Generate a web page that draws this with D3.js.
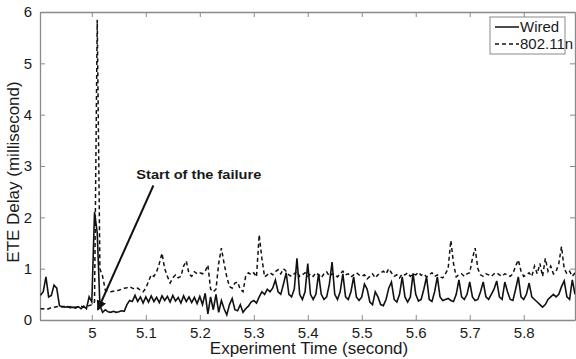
<!DOCTYPE html>
<html>
<head>
<meta charset="utf-8">
<script src="https://cdn.jsdelivr.net/npm/d3@7"></script>
<style>
  body { margin: 0; background: #fff; }
  svg { font-family: "Liberation Sans", Arial, sans-serif; }
</style>
</head>
<body>
<svg id="chart" width="576" height="359"></svg>
<script>
// sampling of the traces (seconds)
const tStart = 4.905;
const tStep = 0.005;

// ETE delay, wired (ms)
const wired = [
  0.48, 0.55, 0.84, 0.45, 0.48, 0.68, 0.62, 0.28, 0.26, 0.25,
  0.26, 0.24, 0.25, 0.23, 0.26, 0.22, 0.27, 0.22, 0.45, 0.35,
  2.1, 1.7, 0.28, 0.15, 0.2, 0.16, 0.15, 0.17, 0.15, 0.16,
  0.18, 0.17, 0.3, 0.38, 0.36, 0.48, 0.36, 0.45, 0.33, 0.45,
  0.35, 0.47, 0.36, 0.44, 0.34, 0.47, 0.38, 0.46, 0.35, 0.48,
  0.37, 0.44, 0.33, 0.47, 0.36, 0.45, 0.34, 0.44, 0.32, 0.46,
  0.3, 0.52, 0.12, 0.45, 0.2, 0.5, 0.15, 0.38, 0.22, 0.1,
  0.3, 0.42, 0.2, 0.18, 0.3, 0.15, 0.22, 0.27, 0.35, 0.38,
  0.33, 0.45, 0.55, 0.5, 0.6, 0.55, 0.62, 0.78, 0.55, 0.5,
  0.7, 0.92, 0.5, 0.45, 0.6, 1.2, 0.5, 0.4, 0.55, 1.1,
  0.5, 0.4, 0.5, 0.9, 0.5, 0.4, 0.45, 0.7, 1.13, 0.5,
  0.4, 0.55, 0.9, 0.45, 0.4, 0.55, 0.84, 0.45, 0.38, 0.45,
  0.7, 0.6, 0.35, 0.3, 0.55, 0.45, 0.3, 0.28, 0.4, 0.62,
  0.74, 0.4, 0.35, 0.5, 0.84, 0.45, 0.35, 0.45, 0.91, 0.5,
  0.37, 0.4, 0.6, 0.84, 0.4, 0.36, 0.55, 0.84, 0.45, 0.38,
  0.4, 0.42, 0.38, 0.36, 0.5, 0.78, 0.45, 0.4, 0.5, 0.74,
  0.45, 0.38, 0.4, 0.55, 0.74, 0.45, 0.4, 0.5, 0.6, 0.76,
  0.45, 0.4, 0.74, 0.55, 0.4, 0.38, 0.6, 0.84, 0.45, 0.4,
  0.5, 0.72, 0.45, 0.4, 0.35, 0.3, 0.25, 0.3, 0.4, 0.45,
  0.5, 0.45, 0.5, 0.65, 0.76, 0.45, 0.4, 0.78, 0.5
];

// ETE delay, 802.11n (ms)
const wifi = [
  0.22, 0.22, 0.2, 0.22, 0.24, 0.25, 0.26, 0.27, 0.26, 0.27,
  0.25, 0.26, 0.27, 0.25, 0.26, 0.27, 0.25, 0.26, 0.28, 0.3,
  0.35, 5.85, 1.0, 0.85, 0.58, 0.55, 0.55, 0.56, 0.57, 0.58,
  0.6, 0.62, 0.63, 0.65, 0.62, 0.6, 0.62, 0.58, 0.55, 0.62,
  0.75, 0.88, 0.85, 0.94, 1.1, 1.3, 1.0, 0.85, 0.72, 0.82,
  0.88, 0.82, 0.85, 1.05, 1.15, 0.9, 0.85, 0.94, 0.9, 0.92,
  0.9, 0.95, 1.07, 0.6, 0.55, 0.6, 1.1, 1.4, 1.1, 0.84,
  0.65, 0.62, 0.72, 0.74, 0.6, 0.55, 0.85, 0.92, 0.88, 0.92,
  0.84, 1.66, 1.2, 0.84, 0.88, 0.92, 0.88, 0.94, 0.98, 0.9,
  1.0, 0.95, 0.88, 0.85, 0.9, 0.95, 0.85, 0.88, 0.92, 0.85,
  0.9, 0.85, 0.92, 0.88, 0.82, 0.9, 0.94, 0.85, 0.9, 0.88,
  0.84, 0.9, 0.95, 0.88, 0.9, 0.84, 0.88, 0.92, 0.88, 0.85,
  0.88, 0.8, 0.85, 0.9, 0.82, 0.88, 0.92, 0.95, 0.9, 1.0,
  0.92, 0.85, 0.88, 0.82, 0.9, 0.88, 0.92, 0.85, 0.9, 0.88,
  0.93, 0.87, 0.9, 0.84, 0.88, 0.92, 0.85, 0.88, 0.84, 0.82,
  0.9, 1.0, 1.55, 1.1, 0.84, 0.88, 0.9, 0.85, 0.9, 0.92,
  1.2, 1.4, 1.0, 0.88, 0.85, 0.9, 0.88, 0.85, 0.9, 0.92,
  0.88, 0.85, 0.9, 0.88, 0.85, 0.9, 1.05, 1.17, 0.95, 0.85,
  0.88, 0.92, 0.85, 1.05, 0.9, 1.1, 0.85, 1.2, 0.95, 1.05,
  0.9, 0.95, 1.1, 1.43, 1.0, 0.9, 0.95, 0.85, 0.92
];

const xTicks = [5, 5.1, 5.2, 5.3, 5.4, 5.5, 5.6, 5.7, 5.8];
const yTicks = [0, 1, 2, 3, 4, 5, 6];
const seriesNames = ["Wired", "802.11n"];

// annotation: arrow tail / tip in data units
const arrowFrom = [5.114, 2.62];
const arrowTo = [5.011, 0.2];
const noteText = "Start of the failure";

const svg = d3.select("#chart");
const m = { left: 40, right: 575, top: 12, bottom: 320 };

const x = d3.scaleLinear().domain([4.904, 5.895]).range([m.left, m.right]);
const y = d3.scaleLinear().domain([0, 6]).range([m.bottom, m.top]);

const axisColor = "#8a8a8a";
const textColor = "#1a1a1a";

svg.append("defs").append("clipPath").attr("id", "clip")
  .append("rect").attr("x", m.left).attr("y", m.top)
  .attr("width", m.right - m.left).attr("height", m.bottom - m.top);

// frame with inward ticks (matlab style)
const gx = svg.append("g").attr("transform", `translate(0,${m.bottom})`)
  .call(d3.axisBottom(x).tickValues(xTicks).tickSizeInner(-5).tickSizeOuter(0)
    .tickPadding(7).tickFormat(d3.format("")));
const gxTop = svg.append("g").attr("transform", `translate(0,${m.top})`)
  .call(d3.axisTop(x).tickValues(xTicks).tickSizeInner(-5).tickSizeOuter(0).tickFormat(""));
const gy = svg.append("g").attr("transform", `translate(${m.left},0)`)
  .call(d3.axisLeft(y).tickValues(yTicks).tickSizeInner(-5).tickSizeOuter(0)
    .tickPadding(8).tickFormat(d3.format("d")));
const gyRight = svg.append("g").attr("transform", `translate(${m.right},0)`)
  .call(d3.axisRight(y).tickValues(yTicks).tickSizeInner(-5).tickSizeOuter(0).tickFormat(""));

[gx, gxTop, gy, gyRight].forEach(g => {
  g.select(".domain").attr("stroke", axisColor).attr("stroke-width", 1.3);
  g.selectAll(".tick line").attr("stroke", axisColor);
  g.selectAll(".tick text").attr("fill", textColor)
    .style("font-size", "15px").style("font-family", "Liberation Sans, Arial, sans-serif");
});

const line = d3.line()
  .x((d, i) => x(tStart + i * tStep))
  .y(d => y(d));

const plot = svg.append("g").attr("clip-path", "url(#clip)");

plot.append("path").datum(wifi)
  .attr("d", line).attr("fill", "none")
  .attr("stroke", "#111").attr("stroke-width", 1.5)
  .attr("stroke-dasharray", "4,3");

plot.append("path").datum(wired)
  .attr("d", line).attr("fill", "none")
  .attr("stroke", "#111").attr("stroke-width", 1.6);

// annotation arrow
svg.append("defs").append("marker")
  .attr("id", "head").attr("viewBox", "0 0 10 10")
  .attr("refX", 9).attr("refY", 5)
  .attr("markerWidth", 5).attr("markerHeight", 5)
  .attr("orient", "auto")
  .append("path").attr("d", "M0,0 L10,5 L0,10 z").attr("fill", "#111");

svg.append("line")
  .attr("x1", x(arrowFrom[0])).attr("y1", y(arrowFrom[1]))
  .attr("x2", x(arrowTo[0])).attr("y2", y(arrowTo[1]))
  .attr("stroke", "#111").attr("stroke-width", 2)
  .attr("marker-end", "url(#head)");

svg.append("text")
  .attr("x", x(arrowFrom[0]) - 17).attr("y", y(arrowFrom[1]) - 7)
  .attr("fill", textColor)
  .style("font-size", "13px").style("font-weight", "bold")
  .attr("textLength", 125).attr("lengthAdjust", "spacingAndGlyphs")
  .text(noteText);

// axis titles
svg.append("text")
  .attr("x", 309).attr("y", 354)
  .attr("text-anchor", "middle").attr("fill", textColor)
  .style("font-size", "17px")
  .text("Experiment Time (second)");

svg.append("text")
  .attr("transform", `translate(19,${(m.top + m.bottom) / 2 + 6}) rotate(-90)`)
  .attr("text-anchor", "middle").attr("fill", textColor)
  .style("font-size", "17px")
  .text("ETE Delay (millisecond)");

// legend
const lg = svg.append("g").attr("transform", "translate(490,17)");
lg.append("rect").attr("width", 75).attr("height", 37)
  .attr("fill", "#fff").attr("stroke", axisColor).attr("stroke-width", 1);
seriesNames.forEach((name, i) => {
  const yy = 10 + i * 17;
  lg.append("line").attr("x1", 5).attr("x2", 29).attr("y1", yy).attr("y2", yy)
    .attr("stroke", "#111").attr("stroke-width", 1.5)
    .attr("stroke-dasharray", i === 1 ? "4,3" : null);
  lg.append("text").attr("x", 30).attr("y", yy + 5)
    .attr("fill", textColor).style("font-size", "15px").text(name);
});
</script>
</body>
</html>
